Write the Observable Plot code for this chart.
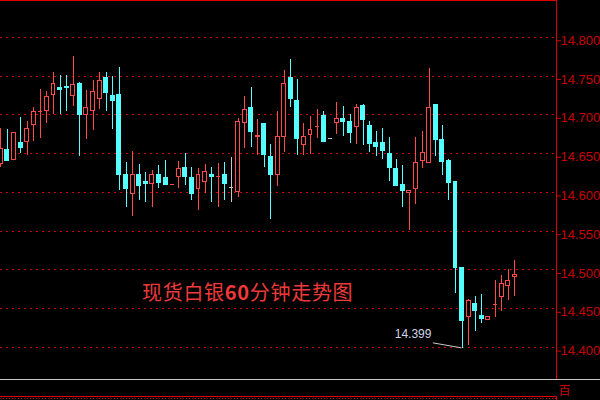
<!DOCTYPE html>
<html><head><meta charset="utf-8">
<script src="https://cdn.jsdelivr.net/npm/d3@7"></script>
<script src="https://cdn.jsdelivr.net/npm/@observablehq/plot@0.6"></script>
<style>
html,body{margin:0;padding:0;background:#000;}
#chart{width:600px;height:400px;overflow:hidden;background:#000;}
</style></head><body><div id="chart"></div>
<script>
// 60-minute candles (index 0..78)
const opens  = [14.637,14.655,14.642,14.664,14.665,14.687,14.703,14.705,14.725,14.735,
                14.736,14.724,14.740,14.700,14.705,14.721,14.747,14.724,14.725,14.623,
                14.598,14.623,14.614,14.611,14.623,14.619,14.609,14.620,14.631,14.619,
                14.604,14.613,14.622,14.619,14.622,14.606,14.600,14.690,14.709,14.671,
                14.688,14.645,14.622,14.671,14.748,14.718,14.661,14.674,14.684,14.698,
                14.669,14.690,14.695,14.691,14.684,14.711,14.685,14.664,14.664,14.650,
                14.630,14.609,14.599,14.604,14.641,14.638,14.713,14.668,14.641,14.614,
                14.502,14.440,14.456,14.441,14.435,14.455,14.465,14.480,14.491];
const highs  = [14.682,14.681,14.677,14.697,14.691,14.709,14.733,14.730,14.755,14.751,
                14.751,14.775,14.741,14.731,14.744,14.755,14.755,14.749,14.761,14.638,
                14.653,14.636,14.626,14.628,14.635,14.641,14.610,14.640,14.650,14.632,
                14.631,14.636,14.632,14.637,14.639,14.645,14.695,14.724,14.735,14.694,
                14.688,14.662,14.704,14.757,14.771,14.746,14.689,14.698,14.707,14.704,
                14.669,14.716,14.711,14.700,14.713,14.713,14.691,14.678,14.682,14.671,
                14.642,14.635,14.603,14.671,14.678,14.760,14.713,14.686,14.642,14.614,
                14.502,14.462,14.466,14.469,14.440,14.486,14.493,14.501,14.512];
const lows   = [14.632,14.640,14.641,14.650,14.648,14.666,14.669,14.689,14.700,14.700,
                14.704,14.711,14.646,14.668,14.680,14.707,14.704,14.681,14.602,14.580,
                14.569,14.589,14.587,14.580,14.605,14.609,14.609,14.605,14.609,14.590,
                14.577,14.598,14.587,14.580,14.589,14.587,14.594,14.657,14.658,14.647,
                14.632,14.565,14.608,14.652,14.710,14.647,14.647,14.649,14.669,14.665,
                14.669,14.674,14.672,14.663,14.662,14.660,14.652,14.646,14.642,14.614,
                14.608,14.580,14.551,14.584,14.631,14.638,14.646,14.622,14.590,14.470,
                14.399,14.403,14.421,14.431,14.435,14.439,14.447,14.461,14.466];
const closes = [14.656,14.641,14.676,14.657,14.682,14.703,14.704,14.723,14.740,14.732,
                14.734,14.738,14.700,14.709,14.729,14.744,14.728,14.718,14.623,14.605,
                14.623,14.608,14.611,14.622,14.612,14.610,14.610,14.630,14.620,14.598,
                14.623,14.626,14.620,14.620,14.611,14.606,14.691,14.706,14.678,14.673,
                14.648,14.623,14.672,14.740,14.721,14.669,14.672,14.681,14.685,14.665,
                14.669,14.694,14.691,14.677,14.709,14.693,14.663,14.658,14.653,14.632,
                14.608,14.602,14.602,14.638,14.651,14.709,14.668,14.639,14.612,14.502,
                14.434,14.460,14.447,14.437,14.440,14.456,14.482,14.486,14.493];
const priceTicks = [14.4,14.45,14.5,14.55,14.6,14.65,14.7,14.75,14.8];
const titleParts = ["现货白银","60","分钟走势图"];
const bottomLabel = "百";

const UP = "#ff4a4a", DOWN = "#54ffff", FLAT = "#c8c8c8", AXIS = "#c80000", BORDER = "#e00000";

const data = opens.map((o, i) => ({i, open: o, high: highs[i], low: lows[i], close: closes[i]}));
data.forEach(d => d.color = d.close > d.open ? UP : d.close < d.open ? DOWN : FLAT);
const bodies = data.filter(d => Math.abs(d.close - d.open) > 0.0015);
const flats = data.filter(d => Math.abs(d.close - d.open) <= 0.0015);
const lowest = d3.least(data, d => d.low);
const fmt = d3.format(".3f");

const plot = Plot.plot({
  width: 600, height: 400,
  marginTop: 0, marginRight: 44, marginBottom: 20, marginLeft: 0,
  style: {background: "#000", overflow: "visible"},
  x: {type: "linear", domain: [-0.0455, 84.33], axis: null},
  y: {domain: [14.3576, 14.8473]},
  color: {type: "identity"},
  marks: [
    Plot.ruleY(priceTicks, {stroke: AXIS, strokeDasharray: "2,4", shapeRendering: "crispEdges"}),
    Plot.ruleX(data, {x: "i", y1: "low", y2: "high", stroke: "color", shapeRendering: "crispEdges"}),
    Plot.rect(bodies, {x1: d => d.i - 0.3, x2: d => d.i + 0.3, y1: "open", y2: "close",
      fill: d => d.close > d.open ? "#000" : d.color, stroke: "color", shapeRendering: "crispEdges"}),
    Plot.ruleY(flats, {x1: d => d.i - 0.3, x2: d => d.i + 0.35, y: "close", stroke: "color", strokeWidth: 1.2, shapeRendering: "crispEdges"}),
    Plot.axisY({anchor: "right", ticks: priceTicks, tickFormat: fmt, tickSize: 4, tickPadding: 0,
      color: AXIS, fontSize: 13, fontFamily: "Liberation Sans, Arial, sans-serif", dy: 3.5, label: null}),
    Plot.text([lowest], {x: "i", y: "low", text: d => fmt(d.low), dx: -30.6, dy: -14,
      textAnchor: "end", fill: "#cfd6e6", fontSize: 12, fontFamily: "Liberation Sans, Arial, sans-serif"})
  ]
});

document.getElementById("chart").appendChild(plot);

// decorations: frame borders, leader line, title
const svg = d3.select(plot);
const sx = plot.scale("x"), sy = plot.scale("y");
const px = sx.apply(lowest.i), py = sy.apply(lowest.low);
const g = svg.append("g").attr("shape-rendering", "crispEdges");
g.append("line").attr("x1", 0).attr("x2", 557).attr("y1", 0.5).attr("y2", 0.5).attr("stroke", BORDER);
g.append("line").attr("x1", 556.5).attr("x2", 556.5).attr("y1", 0).attr("y2", 379.5).attr("stroke", BORDER);
g.append("line").attr("x1", 0).attr("x2", 600).attr("y1", 379.5).attr("y2", 379.5).attr("stroke", "#c8c8c8");
g.append("line").attr("x1", 0).attr("x2", 556).attr("y1", 396.5).attr("y2", 396.5).attr("stroke", BORDER);
g.append("line").attr("x1", 0).attr("x2", 556).attr("y1", 398.5).attr("y2", 398.5).attr("stroke", AXIS).attr("stroke-dasharray", "1,2");
g.append("line").attr("x1", 556.5).attr("x2", 556.5).attr("y1", 396).attr("y2", 400).attr("stroke", BORDER);
svg.append("text").attr("x", 558.5).attr("y", 394.5).attr("fill", AXIS).attr("text-anchor", "start")
  .attr("font-size", 12).attr("font-family", "Noto Sans CJK SC").text(bottomLabel);
svg.append("line").attr("x1", px - 28.7).attr("y1", py - 5).attr("x2", px).attr("y2", py)
  .attr("stroke", "#c8c8c8").attr("stroke-width", 1);

const t = svg.append("text").attr("x", 142).attr("y", 291).attr("dominant-baseline", "central")
  .attr("text-anchor", "start")
  .attr("fill", "#f03a3a").attr("font-size", 20).attr("letter-spacing", 0.7)
  .attr("font-family", "Noto Sans CJK SC, sans-serif");
t.append("tspan").text(titleParts[0]);
t.append("tspan").attr("font-weight", "bold").text(titleParts[1]);
t.append("tspan").text(titleParts[2]);
</script>
</body></html>
